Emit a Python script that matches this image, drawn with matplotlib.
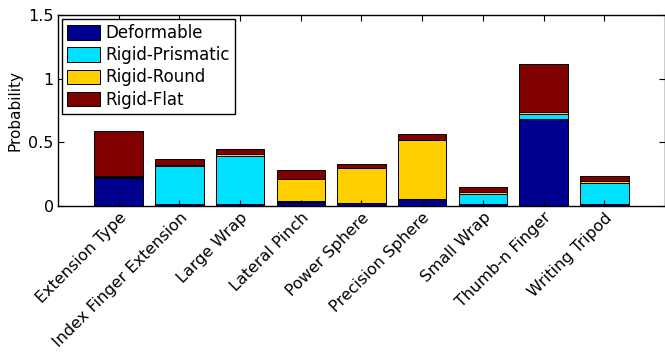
import matplotlib.pyplot as plt
import numpy as np

# grasp types and per-class probability (stacked)
grasps = ['Extension Type', 'Index Finger Extension', 'Large Wrap', 'Lateral Pinch',
          'Power Sphere', 'Precision Sphere', 'Small Wrap', 'Thumb-n Finger', 'Writing Tripod']
deformable = [0.22, 0.01, 0.01, 0.03, 0.02, 0.05, 0.01, 0.68, 0.01]
prismatic = [0.006, 0.30, 0.38, 0.004, 0.003, 0.003, 0.08, 0.04, 0.17]
round_ = [0.010, 0.012, 0.014, 0.175, 0.27, 0.465, 0.015, 0.014, 0.015]
flat = [0.35, 0.045, 0.04, 0.07, 0.036, 0.045, 0.043, 0.38, 0.038]

series = [('Deformable', deformable, '#00008f'),
          ('Rigid-Prismatic', prismatic, '#00e0ff'),
          ('Rigid-Round', round_, '#ffd000'),
          ('Rigid-Flat', flat, '#800000')]

plt.rcParams['font.family'] = ['DejaVu Sans']
fig = plt.figure(figsize=(6.65, 3.52), dpi=100)
ax = fig.add_axes([0.0872, 0.4156, 0.9128, 0.5415])

x = np.arange(1, len(grasps) + 1)
bottom = np.zeros(len(grasps))
for name, vals, color in series:
    ax.bar(x, vals, width=0.8, bottom=bottom, color=color, edgecolor='black',
           linewidth=0.7, label=name)
    bottom += np.array(vals)

ax.set_xlim(0, 10)
ax.set_ylim(0, 1.5)
ax.set_yticks([0, 0.5, 1, 1.5])
ax.set_yticklabels(['0', '0.5', '1', '1.5'])
ax.set_xticks(x)
ax.set_xticklabels(grasps, rotation=45, ha='right', va='top', rotation_mode='anchor')
ax.tick_params(direction='in', top=True, right=True, length=4, labelsize=11.5, pad=3)
for s in ax.spines.values():
    s.set_linewidth(1.0)
ax.set_ylabel('Probability', fontsize=11, labelpad=4)

leg = ax.legend(loc='upper left', bbox_to_anchor=(0.0066, 0.979), borderaxespad=0,
                fancybox=False, edgecolor='black', framealpha=1, fontsize=12,
                handlelength=2.0, handleheight=0.95, labelspacing=0.25,
                borderpad=0.3, handletextpad=0.3)
leg.get_frame().set_linewidth(1.0)

fig.savefig('out.png', dpi=100)
